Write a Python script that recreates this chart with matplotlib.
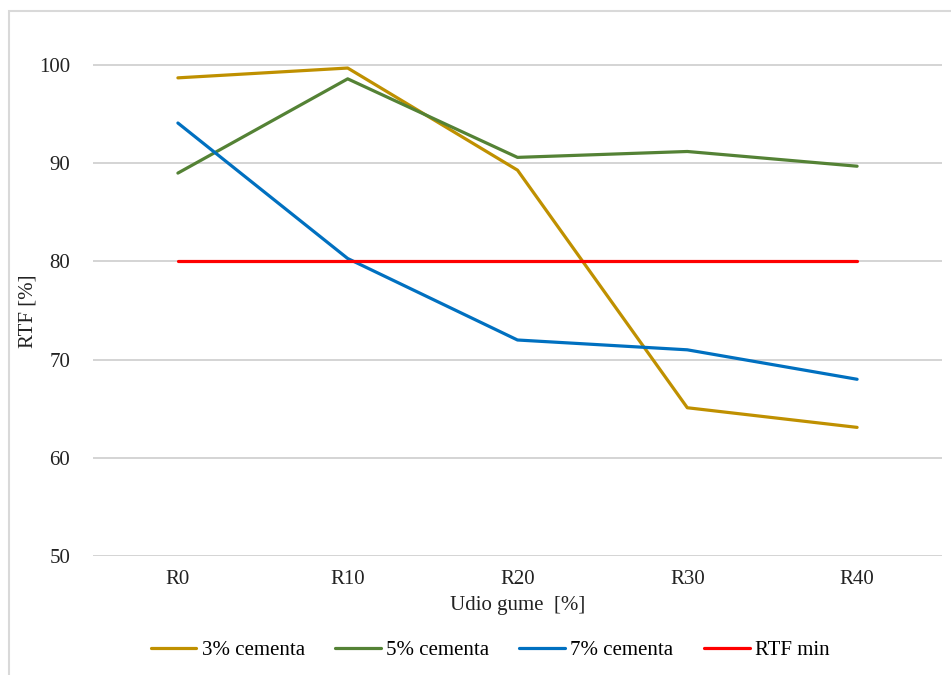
import matplotlib.pyplot as plt
from matplotlib.patches import Rectangle

### Data
categories = ['R0', 'R10', 'R20', 'R30', 'R40']
cem3 = [98.7, 99.7, 89.3, 65.1, 63.1]
cem5 = [89.0, 98.6, 90.6, 91.2, 89.7]
cem7 = [94.1, 80.3, 72.0, 71.0, 68.0]
rtf_min = [80, 80, 80, 80, 80]
labels = ['3% cementa', '5% cementa', '7% cementa', 'RTF min']
colors = ['#BF9000', '#548235', '#0070C0', '#FF0000']
yticks = [50, 60, 70, 80, 90, 100]

plt.rcParams['font.family'] = ['Liberation Serif', 'DejaVu Serif']

W, H = 951, 675
fig = plt.figure(figsize=(W / 100, H / 100), dpi=100)

### chart border (cropped at right and bottom like the reference)
fig.patches.append(Rectangle((9 / W, -0.1), 2.0, 1 - 11 / H + 0.1, transform=fig.transFigure,
                             fill=False, edgecolor='#D9D9D9', linewidth=1.5))

ax = fig.add_axes([93 / W, 1 - 556 / H, (942 - 93) / W, (556 - 16) / H])

x = list(range(len(categories)))
for series, lab, col in zip([cem3, cem5, cem7, rtf_min], labels, colors):
    ax.plot(x, series, color=col, linewidth=2.3, label=lab, solid_capstyle='round')

ax.set_xlim(-0.5, len(categories) - 0.5)
ax.set_ylim(50, 105)
ax.set_yticks(yticks)
ax.set_xticks(x)
ax.set_xticklabels(categories)
ax.grid(axis='y', color='#D4D4D4', linewidth=1.4)
ax.set_axisbelow(True)
for s in ax.spines.values():
    s.set_visible(False)
fs = 15
ax.tick_params(length=0, labelsize=fs, colors='#222222')
ax.tick_params(axis='y', pad=16.5)
ax.tick_params(axis='x', pad=10)

ax.set_ylabel('RTF [%]', fontsize=fs, color='#222222')
ax.yaxis.set_label_coords((37 - 93) / 849, 0.5 - (311 - 286) / 540)
ax.set_xlabel('Udio gume  [%]', fontsize=fs, color='#222222', labelpad=5)

ax.legend(loc='center', bbox_to_anchor=((490 - 93) / 849, (556 - 650) / 540),
          ncol=4, frameon=False, fontsize=fs, handlelength=2.2, columnspacing=1.45,
          handletextpad=0.25)

fig.savefig('out.png', dpi=100)
